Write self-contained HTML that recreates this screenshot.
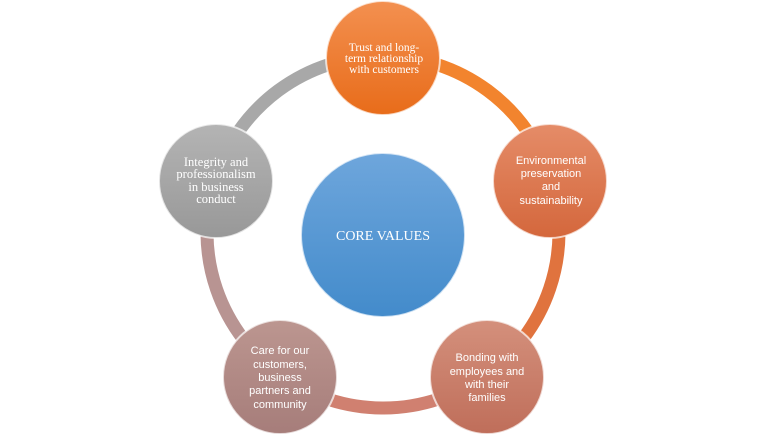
<!DOCTYPE html>
<html><head><meta charset="utf-8"><style>
html,body{margin:0;padding:0;background:#fff;}
svg{display:block;}
.s{font-family:"Liberation Serif",serif;fill:#fff;text-anchor:middle;}
.a{font-family:"Liberation Sans",sans-serif;fill:#fff;text-anchor:middle;}
</style></head><body>
<svg width="768" height="439" viewBox="0 0 768 439" xmlns="http://www.w3.org/2000/svg">
<defs>
<linearGradient id="go" x1="0" y1="0" x2="0" y2="1"><stop offset="0" stop-color="#f39050"/><stop offset="1" stop-color="#e86c1a"/></linearGradient>
<linearGradient id="gr" x1="0" y1="0" x2="0" y2="1"><stop offset="0" stop-color="#e58c68"/><stop offset="1" stop-color="#d4673c"/></linearGradient>
<linearGradient id="gbr" x1="0" y1="0" x2="0" y2="1"><stop offset="0" stop-color="#d4907c"/><stop offset="1" stop-color="#bf6e5a"/></linearGradient>
<linearGradient id="gbl" x1="0" y1="0" x2="0" y2="1"><stop offset="0" stop-color="#bc9690"/><stop offset="1" stop-color="#a67d7a"/></linearGradient>
<linearGradient id="gg" x1="0" y1="0" x2="0" y2="1"><stop offset="0" stop-color="#b4b4b4"/><stop offset="1" stop-color="#989898"/></linearGradient>
<linearGradient id="gc" x1="0" y1="0" x2="0" y2="1"><stop offset="0" stop-color="#6ea6dc"/><stop offset="1" stop-color="#438bcb"/></linearGradient>
</defs>
<g fill="none" stroke-width="13">
<path d="M383 56 A176 176 0 0 1 551.3 180.5" stroke="#f2842e"/>
<path d="M551.3 180.5 A176 176 0 0 1 485.2 375.3" stroke="#e0733e"/>
<path d="M485.2 375.3 A176 176 0 0 1 282 376.2" stroke="#d08070"/>
<path d="M282 376.2 A176 176 0 0 1 214.7 180.5" stroke="#b89492"/>
<path d="M214.7 180.5 A176 176 0 0 1 383 56" stroke="#a8a8a8"/>
</g>
<g stroke="#fff" stroke-opacity="0.7" stroke-width="2">
<circle cx="383" cy="58" r="57" fill="url(#go)"/>
<circle cx="550" cy="181" r="57" fill="url(#gr)"/>
<circle cx="487" cy="377" r="57" fill="url(#gbr)"/>
<circle cx="280" cy="377" r="57" fill="url(#gbl)"/>
<circle cx="216" cy="181" r="57" fill="url(#gg)"/>
<circle cx="383" cy="235" r="82" fill="url(#gc)"/>
</g>
<text class="s" font-size="11.5"><tspan x="384" y="51">Trust and long-</tspan><tspan x="384" y="62">term relationship</tspan><tspan x="384" y="73">with customers</tspan></text>
<text class="a" font-size="11"><tspan x="551" y="164">Environmental</tspan><tspan x="551" y="177">preservation</tspan><tspan x="551" y="190">and</tspan><tspan x="551" y="204">sustainability</tspan></text>
<text class="a" font-size="11"><tspan x="487" y="361">Bonding with</tspan><tspan x="487" y="375">employees and</tspan><tspan x="487" y="388">with their</tspan><tspan x="487" y="401">families</tspan></text>
<text class="a" font-size="11"><tspan x="280" y="354">Care for our</tspan><tspan x="280" y="368">customers,</tspan><tspan x="280" y="381">business</tspan><tspan x="280" y="394">partners and</tspan><tspan x="280" y="408">community</tspan></text>
<text class="s" font-size="12.5"><tspan x="216" y="166">Integrity and</tspan><tspan x="216" y="178">professionalism</tspan><tspan x="216" y="191">in business</tspan><tspan x="216" y="203">conduct</tspan></text>
<text class="s" font-size="14" x="383" y="240">CORE VALUES</text>
</svg>
</body></html>
